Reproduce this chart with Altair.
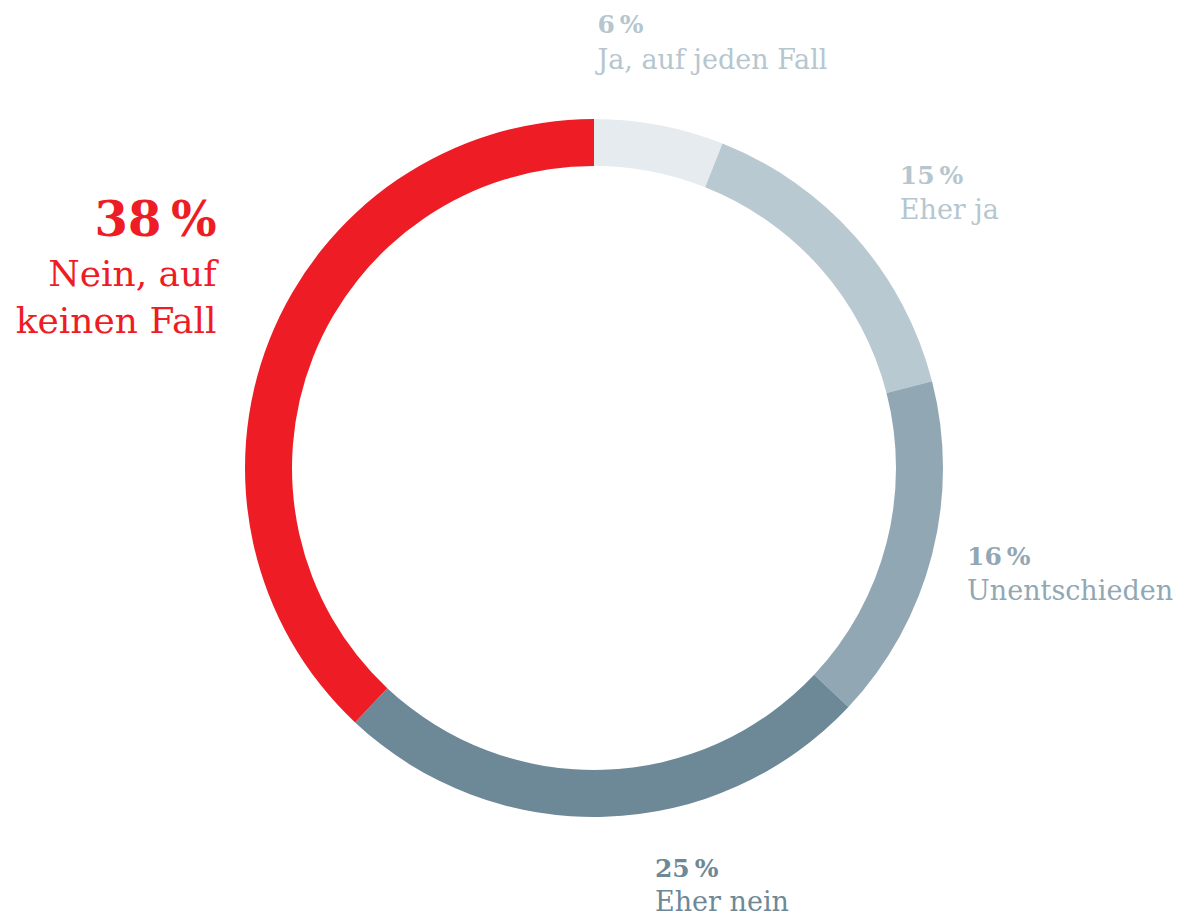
import math
import altair as alt
import pandas as pd

# ---- data ----
categories = ["Ja, auf jeden Fall", "Eher ja", "Unentschieden", "Eher nein", "Nein, auf keinen Fall"]
values = [6, 15, 16, 25, 38]
name_labels = ["Ja, auf jeden Fall", "Eher ja", "Unentschieden", "Eher nein", "Nein, auf|keinen Fall"]

# ---- styles ----
seg_colors = ["#e6ebef", "#b9c9d1", "#91a8b4", "#6d8896", "#ee1c24"]
txt_colors = ["#b6c6cf", "#b6c6cf", "#91a8b4", "#6d8896", "#ee1c24"]
FONT = "DejaVu Serif"

# table built from the arrays
cum = 0
rows = []
for i, (c, v, n) in enumerate(zip(categories, values, name_labels)):
    rows.append({"idx": i, "category": c, "value": v, "mid": cum + v / 2,
                 "pct": f"{v}\u202f%", "name": n})
    cum += v
df = pd.DataFrame(rows)

theta_scale = alt.Scale(domain=[0, 100], range=[0, 2 * math.pi])

arc = alt.Chart(df).mark_arc(innerRadius=302, outerRadius=349, stroke=None).encode(
    theta=alt.Theta("value:Q", stack=True, scale=theta_scale),
    color=alt.Color("category:N", scale=alt.Scale(domain=categories, range=seg_colors), legend=None),
    order=alt.Order("idx:Q"),
)

# per-label placement (offsets from the outer rim at each segment's mid-angle)
placement = [
    # align, pct dx, pct dy, name dy, pct size, name size, line height
    ("left", -62, -92, -56, 25, 27, 36),
    ("left", 44, -53, -18, 25, 27, 36),
    ("left", 35, 10, 45, 25, 27, 36),
    ("left", 50, 60, 94, 25, 27, 36),
    ("right", -53, -104, -54, 48, 36, 47),
]

layers = [arc]
for i, (align, dx, dy1, dy2, s1, s2, lh) in enumerate(placement):
    base = alt.Chart(df).transform_filter(alt.datum.idx == i)
    enc = dict(theta=alt.Theta("mid:Q", scale=theta_scale, stack=None), radius=alt.value(349))
    pct = base.mark_text(align=align, baseline="alphabetic", font=FONT, fontWeight="bold",
                         fontSize=s1, color=txt_colors[i], dx=dx, dy=dy1).encode(
        text="pct:N", **enc)
    name = base.mark_text(align=align, baseline="alphabetic", font=FONT, fontWeight="normal",
                          fontSize=s2, color=txt_colors[i], dx=dx, dy=dy2,
                          lineBreak="|", lineHeight=lh).encode(
        text="name:N", **enc)
    layers += [pct, name]

chart = alt.layer(*layers).resolve_scale(theta="independent").properties(
    width=1168, height=882,
    padding={"left": 2, "top": 19, "right": 0, "bottom": 8},
    autosize="none",
).configure_view(stroke=None)

chart.save("out.html", embed_options={"renderer": "svg", "actions": False})
